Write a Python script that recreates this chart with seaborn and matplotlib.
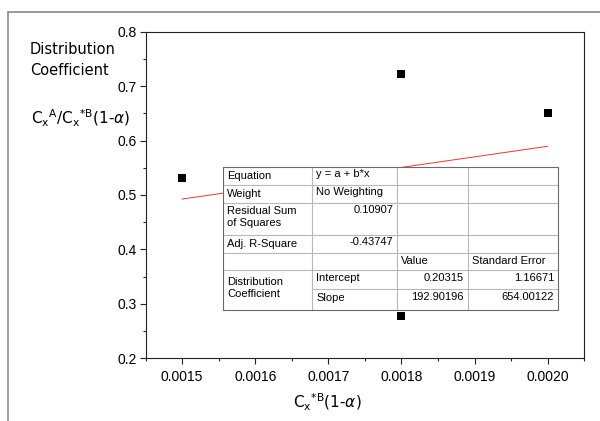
import matplotlib
matplotlib.use("Agg")
import matplotlib.pyplot as plt
from matplotlib.lines import Line2D
from matplotlib.ticker import MultipleLocator, FormatStrFormatter
import seaborn as sns
import pandas as pd

# ---- data ----
x_vals = [0.0015, 0.0018, 0.0018, 0.0020]
y_vals = [0.532, 0.723, 0.277, 0.650]
fit_x = [0.0015, 0.0020]
fit_y = [0.4925, 0.5895]

table_col0 = ["Equation", "Weight", "Residual Sum\nof Squares", "Adj. R-Square", "", "Distribution\nCoefficient"]
table_col1 = ["y = a + b*x", "No Weighting", "0.10907", "-0.43747", "", "Intercept", "Slope"]
table_header = ["Value", "Standard Error"]
table_values = ["0.20315", "192.90196"]
table_errors = ["1.16671", "654.00122"]

W, H = 600, 421
sns.set_style("ticks")
plt.rcParams["font.family"] = ["Liberation Sans", "DejaVu Sans"]
plt.rcParams["mathtext.fontset"] = "dejavusans"
plt.rcParams["text.color"] = "black"
plt.rcParams["axes.labelcolor"] = "black"

fig = plt.figure(figsize=(W / 100, H / 100), dpi=100)
fig.patch.set_facecolor("white")

def fx(px):
    return px / W

def fy(py):
    return 1 - py / H

ax = fig.add_axes([fx(145.5), fy(358.3), fx(584.3) - fx(145.5), fy(31.7) - fy(358.3)])

pts = pd.DataFrame({"x": x_vals, "y": y_vals})
fit = pd.DataFrame({"x": fit_x, "y": fit_y})
sns.lineplot(data=fit, x="x", y="y", color="#ff3030", linewidth=0.7, ax=ax, zorder=2)
sns.scatterplot(data=pts, x="x", y="y", marker="s", s=36, color="black", linewidth=0, ax=ax, zorder=3)

ax.set_xlim(0.00145, 0.00205)
ax.set_ylim(0.2, 0.8)
ax.xaxis.set_minor_locator(MultipleLocator(0.00005))
ax.yaxis.set_major_locator(MultipleLocator(0.1))
ax.yaxis.set_minor_locator(MultipleLocator(0.05))
ax.xaxis.set_major_formatter(FormatStrFormatter("%.4f"))
ax.yaxis.set_major_formatter(FormatStrFormatter("%.1f"))
ax.set_xticks([0.0015, 0.0016, 0.0017, 0.0018, 0.0019, 0.0020])
ax.set_xlabel("")
ax.set_ylabel("")
ax.tick_params(which="major", direction="out", length=4.5, width=0.8, color="#222222",
               labelsize=10, labelcolor="black")
ax.tick_params(axis="y", which="major", pad=2)
ax.tick_params(axis="x", which="major", pad=4)
ax.tick_params(which="minor", direction="out", length=2.5, width=0.8, color="#222222")
ax.tick_params(top=False, right=False, which="both")
for s in ax.spines.values():
    s.set_visible(True)
    s.set_color("#222222")
    s.set_linewidth(0.8)

# outer frame
fig.add_artist(Line2D([fx(8), fx(8)], [fy(12), fy(421)], color="#8a8a8a", lw=1.2, transform=fig.transFigure))
fig.add_artist(Line2D([fx(8), fx(600)], [fy(12), fy(12)], color="#8a8a8a", lw=1.2, transform=fig.transFigure))

# axis labels
lab_font = ["DejaVu Sans"]
fig.text(fx(30), fy(60), "Distribution\nCoefficient", ha="left", va="center", fontsize=10.5,
         family=lab_font, linespacing=1.45)
fig.text(fx(81), fy(118), r"C$_\mathrm{x}$$^\mathrm{A}$/C$_\mathrm{x}$$^{*\mathrm{B}}$(1-$\alpha$)",
         ha="center", va="center", fontsize=11, family=lab_font)
fig.text(fx(327), fy(402), r"C$_\mathrm{x}$$^{*\mathrm{B}}$(1-$\alpha$)",
         ha="center", va="center", fontsize=11, family=lab_font)

# ---- table ----
cols = [223, 312, 397, 468, 558]
rows = [167, 185, 203, 235, 253, 270, 289, 310]
inner = "#b8b8b8"
outer = "#6a6a6a"
fig.add_artist(plt.Rectangle((fx(cols[0]), fy(rows[-1])), fx(cols[-1]) - fx(cols[0]),
                             fy(rows[0]) - fy(rows[-1]), transform=fig.transFigure,
                             facecolor="white", edgecolor="none", zorder=5))

def hline(y, x0, x1, c):
    fig.add_artist(Line2D([fx(x0), fx(x1)], [fy(y), fy(y)], color=c, lw=0.8,
                          transform=fig.transFigure, zorder=6))

def vline(x, y0, y1, c):
    fig.add_artist(Line2D([fx(x), fx(x)], [fy(y0), fy(y1)], color=c, lw=0.8,
                          transform=fig.transFigure, zorder=6))

for r in rows[1:-1]:
    if r == rows[6]:
        hline(r, cols[1], cols[-1], inner)
    else:
        hline(r, cols[0], cols[-1], inner)
for c in cols[1:-1]:
    vline(c, rows[0], rows[-1], inner)
hline(rows[0], cols[0], cols[-1], outer)
hline(rows[-1], cols[0], cols[-1], outer)
vline(cols[0], rows[0], rows[-1], outer)
vline(cols[-1], rows[0], rows[-1], outer)

tfs = 8

def cell_text(x, y, s, ha="left"):
    fig.text(fx(x), fy(y), s, ha=ha, va="top", fontsize=tfs, zorder=7, linespacing=1.3)

# column 0
col0_y = [170, 188, 205, 238]
for s, y in zip(table_col0[:4], col0_y):
    cell_text(cols[0] + 4, y + 1, s)
cell_text(cols[0] + 4, 277, table_col0[5])
# column 1
cell_text(cols[1] + 4, 169, table_col1[0])
cell_text(cols[1] + 4, 187, table_col1[1])
cell_text(cols[2] - 4, 205, table_col1[2], ha="right")
cell_text(cols[2] - 4, 237, table_col1[3], ha="right")
cell_text(cols[1] + 4, 273, table_col1[5])
cell_text(cols[1] + 4, 293, table_col1[6])
# headers
cell_text(cols[2] + 4, 256, table_header[0])
cell_text(cols[3] + 4, 256, table_header[1])
# values
cell_text(cols[3] - 4, 273, table_values[0], ha="right")
cell_text(cols[3] - 4, 292, table_values[1], ha="right")
cell_text(cols[4] - 4, 273, table_errors[0], ha="right")
cell_text(cols[4] - 4, 292, table_errors[1], ha="right")

fig.savefig("out.png", dpi=100, facecolor="white")
